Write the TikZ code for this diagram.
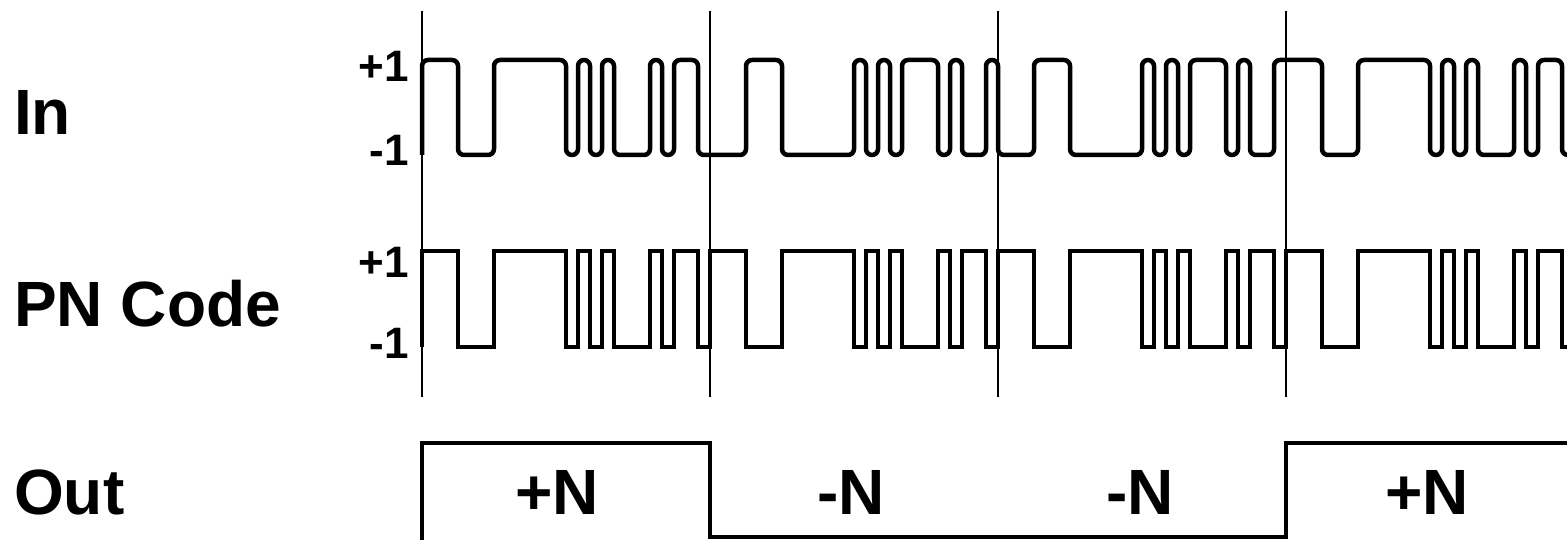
\documentclass[tikz,border=0pt]{standalone}
\usepackage{fontspec}
\setmainfont{Liberation Sans}
\usetikzlibrary{positioning}

\begin{document}
\begin{tikzpicture}[x=1pt, y=-1pt,
        % Text styles
        rowlabel/.style={font=\fontsize{64}{64}\selectfont\bfseries, inner sep=0pt, anchor=base west},
        levelmark/.style={font=\fontsize{44}{44}\selectfont\bfseries, inner sep=0pt, anchor=base east},
        outvalue/.style={font=\fontsize{64}{64}\selectfont\bfseries, inner sep=0pt, anchor=base},
        % Line styles
        divider/.style={line width=1.5pt},
        wave/.style={line width=4pt}
    ]
    \useasboundingbox (0,0) rectangle (1567,540);
    \clip (0,0) rectangle (1567,540);

    % Row labels
    \node[rowlabel] (in) at (14,135) {In};
    \node[rowlabel] (pn) at (14,326) {PN Code};
    \node[rowlabel] (out) at (14,514) {Out};

    % Level marks
    \node[levelmark] (inhi) at (409,82) {+1};
    \node[levelmark] (inlo) at (409,166) {-1};
    \node[levelmark] (pnhi) at (409,277) {+1};
    \node[levelmark] (pnlo) at (409,358) {-1};

    % Symbol boundaries
    \draw[divider] (422,11) -- (422,397);
    \draw[divider] (710,11) -- (710,397);
    \draw[divider] (998,11) -- (998,397);
    \draw[divider] (1286,11) -- (1286,397);

    % Input signal (data times PN code, band limited)
    \draw[wave, line width=4.5pt, rounded corners=6pt] (422,155) -- (422,60)
        \foreach \t [count=\n from 2] in {3,6,12,13,14,15,16,19,20,21,23,27,30,36,37,38,39,40,43,44,45,47,48,51,54,60,61,62,63,64,67,68,69,71,75,78,84,85,86,87,88,91,92,93,95} {
            -| ({422+12*\t},{155-95*mod(\n,2)})
        } -- (1580,155);

    % PN code, 24 chips per symbol
    \draw[wave] (422,347)
        \foreach \p in {0,...,3} {
            \foreach \t [count=\n] in {0,3,6,12,13,14,15,16,19,20,21,23} {
                -| ({422+288*\p+12*\t},{347-96*mod(\n,2)})
            }
        } -- (1580,347);

    % Correlator output
    \draw[wave] (422,560) -- (422,443) -- (710,443) -- (710,537) -- (1286,537) -- (1286,443) -- (1580,443);
    \node[outvalue] (outa) at (557,514) {+N};
    \node[outvalue] (outb) at (851,514) {-N};
    \node[outvalue] (outc) at (1140,514) {-N};
    \node[outvalue] (outd) at (1427,514) {+N};
\end{tikzpicture}
\end{document}
